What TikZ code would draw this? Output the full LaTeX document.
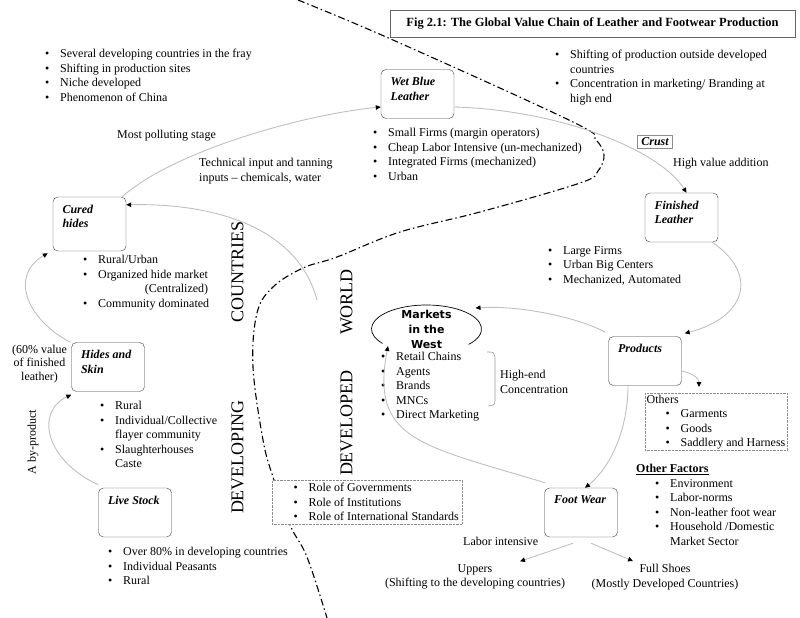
\documentclass[tikz,border=0pt]{standalone}
\usepackage{fontspec}
\setmainfont{Liberation Serif}
\newfontfamily\mktfont{DejaVu Sans}
\usetikzlibrary{arrows.meta}
\newcommand{\bul}{\makebox[15pt][l]{\textbullet}}
\newcommand{\bulind}{\hspace*{15pt}}

\begin{document}
\begin{tikzpicture}[
    x=1pt, y=-1pt,
    every node/.style={font=\fontsize{12}{14.5}\selectfont, inner sep=0pt},
    stage/.style={draw=black!75, rounded corners=5pt, fill=white, minimum width=73pt, minimum height=49pt, font=\fontsize{12}{14.5}\selectfont\bfseries\itshape},
    notes/.style={align=left, anchor=north west},
    bigword/.style={rotate=90, font=\fontsize{18}{20}\selectfont},
    dotbox/.style={draw=black!45, densely dotted, fill=white},
    flowline/.style={draw=black!25, line width=0.9pt, -{Triangle[length=5pt, width=4.5pt, color=black]}}
]
    \useasboundingbox (0,0) rectangle (800,618);

    % Border between the two worlds
    \draw[line width=1.1pt, dash pattern=on 7pt off 3pt on 1.5pt off 3pt] plot[smooth, tension=0.6] coordinates {(298,0) (393,40) (573,122) (596,140) (604,155) (598,171) (580,183) (480,212) (400,232) (337,257) (303,268) (273,287) (257,313) (253,367) (263,440) (273,477) (290,525) (307,557) (327,618)};

    % Title
    \node[draw=black!60, line width=0.8pt, minimum width=405pt, minimum height=27pt, font=\fontsize{12.5}{15}\selectfont\bfseries] (title) at (592.5,23.5) {Fig 2.1: The Global Value Chain of Leather and Footwear Production};

    % Stages
    \node[stage] (wetblue) at (417.5,94) {\parbox[c][33pt][t]{54pt}{Wet Blue\\Leather}};
    \node[stage, minimum height=54pt] (cured) at (89.5,224) {\parbox[c][38pt][t]{54pt}{Cured\\hides}};
    \node[stage] (hides) at (108,367) {\parbox[c][33pt][t]{54pt}{Hides and\\Skin}};
    \node[stage] (livestock) at (135,512.5) {\parbox[c][33pt][t]{54pt}{Live Stock}};
    \node[stage] (finished) at (681.5,217.5) {\parbox[c][33pt][t]{54pt}{Finished\\Leather}};
    \node[stage] (products) at (645,361) {\parbox[c][33pt][t]{54pt}{Products}};
    \node[stage] (footwear) at (581,512.5) {\parbox[c][33pt][t]{54pt}{Foot Wear}};
    \node[draw=black!45, fill=white, inner xsep=4pt, minimum height=13pt, font=\fontsize{12}{14.5}\selectfont\bfseries\itshape] (crust) at (655,141.5) {Crust};

    % Markets
    \node[align=center, font=\mktfont\bfseries\fontsize{11}{15}\selectfont] (markets) at (426.5,329) {Markets\\in the\\West};
    \draw[line width=0.7pt] ([shift={(-40:55pt and 24pt)}]markets.center) arc[start angle=-40, end angle=217, x radius=55pt, y radius=24pt];

    % Notes
    \node[notes] (tlnotes) at (45,49) {\bul Several developing countries in the fray\\ \bul Shifting in production sites\\ \bul Niche developed\\ \bul Phenomenon of China};
    \node[notes] (trnotes) at (555,50) {\bul Shifting of production outside developed\\ \bulind countries\\ \bul Concentration in marketing/ Branding at\\ \bulind high end};
    \node[notes] (wetnotes) at (373,128) {\bul Small Firms (margin operators)\\ \bul Cheap Labor Intensive (un-mechanized)\\ \bul Integrated Firms (mechanized)\\ \bul Urban};
    \node[anchor=base west] (polluting) at (117,138.5) {Most polluting stage};
    \node[notes] (tanning) at (199,158) {Technical input and tanning\\inputs -- chemicals, water};
    \node[anchor=base west] (highvalue) at (673,166.5) {High value addition};
    \node[notes] (finnotes) at (548,246) {\bul Large Firms\\ \bul Urban Big Centers\\ \bul Mechanized, Automated};
    \node[notes] (curednotes) at (83,255) {\bul Rural/Urban\\ \bul Organized hide market\\ \bulind\makebox[110pt][r]{(Centralized)}\\ \bul Community dominated};
    \node[align=center, font=\fontsize{12}{13.5}\selectfont] (hidesvalue) at (39.5,364) {(60\% value\\of finished\\leather)};
    \node[notes] (hidesnotes) at (100,401) {\bul Rural\\ \bul Individual/Collective\\ \bulind flayer community\\ \bul Slaughterhouses\\ \bulind Caste};
    \node[rotate=90] (byproduct) at (33,442) {A by-product};
    \node[notes] (livenotes) at (108,547) {\bul Over 80\% in developing countries\\ \bul Individual Peasants\\ \bul Rural};
    \node[notes] (mktnotes) at (381,352) {\bul Retail Chains\\ \bul Agents\\ \bul Brands\\ \bul MNCs\\ \bul Direct Marketing};
    \draw[black!40, line width=0.6pt] (487,352) .. controls (494,352) .. (495,358) -- (495,399) .. controls (495,405) .. (488,406);
    \node[notes] (highend) at (500,370) {High-end\\Concentration};
    \node[notes, dotbox, inner xsep=1.5pt, inner ysep=1.5pt] (others) at (645,393) {Others\\ \hspace*{19pt}\bul Garments\\ \hspace*{19pt}\bul Goods\\ \hspace*{19pt}\bul Saddlery and Harness};
    \node[notes] (factors) at (636,464) {\underline{\textbf{Other Factors}}\\ \hspace*{19pt}\bul Environment\\ \hspace*{19pt}\bul Labor-norms\\ \hspace*{19pt}\bul Non-leather foot wear\\ \hspace*{19pt}\bul Household /Domestic\\ \hspace*{19pt}\bulind Market Sector};
    \node[notes, dotbox, inner xsep=2pt, inner ysep=3pt, minimum width=190pt] (rolenotes) at (272,480) {\hspace*{18pt}\bul Role of Governments\\ \hspace*{18pt}\bul Role of Institutions\\ \hspace*{18pt}\bul Role of International Standards};
    \node[anchor=base west] (labor) at (463,545.5) {Labor intensive};
    \node[align=center] (uppers) at (475,577) {Uppers\\(Shifting to the developing countries)};
    \node[align=center] (fullshoes) at (665,577) {Full Shoes\\(Mostly Developed Countries)};

    % Big labels
    \node[bigword] (countries) at (237.5,272) {COUNTRIES};
    \node[bigword] (developing) at (237.5,457) {DEVELOPING};
    \node[bigword] (world) at (346.5,302) {WORLD};
    \node[bigword] (developed) at (346.5,423) {DEVELOPED};

    % Flows
    \coordinate (devsupply) at (317,300);
    \draw[flowline] ([yshift=3pt]livestock.north west) .. controls (45,460) and (35,412) .. ([yshift=-3pt]hides.south west);
    \draw[flowline] ([xshift=-1pt]hides.north west) .. controls (25,318) and (10,275) .. ([xshift=-5pt,yshift=-2pt]cured.south west);
    \draw[flowline] (devsupply) .. controls (297,225) and (210,203) .. ([yshift=-8pt]cured.north east);
    \draw[flowline] ([xshift=-4pt]cured.north east) .. controls (172,152) and (300,115) .. ([yshift=-13pt]wetblue.west);
    \draw[flowline] ([yshift=-13pt]wetblue.east) .. controls (560,110) and (660,150) .. ([xshift=5pt]finished.north);
    \draw[flowline] ([xshift=-6pt]finished.south east) .. controls (760,275) and (745,318) .. ([xshift=3pt,yshift=3pt]products.north east);
    \draw[flowline] ([xshift=-3pt,yshift=4pt]products.north west) .. controls (580,318) and (520,305) .. ([shift={(49pt,21pt)}]markets.center);
    \draw[flowline] ([yshift=-10pt]products.east) .. controls (692,373) and (699,378) .. ([xshift=-17pt,yshift=6pt]others.north);
    \draw[flowline] ([xshift=-17pt]products.south) .. controls (628,430) and (610,468) .. ([xshift=4pt]footwear.north);
    \draw[flowline] ([xshift=1pt,yshift=5pt]footwear.north west) .. controls (420,445) and (370,440) .. ([shift={(-38.5pt,-17pt)}]markets.center);
    \draw[flowline] ([xshift=-8pt,yshift=-6pt]footwear.south) -- ([xshift=45pt,yshift=3pt]uppers.north);
    \draw[flowline] ([xshift=10pt,yshift=-6pt]footwear.south) -- ([xshift=-32pt,yshift=3pt]fullshoes.north);
\end{tikzpicture}
\end{document}
